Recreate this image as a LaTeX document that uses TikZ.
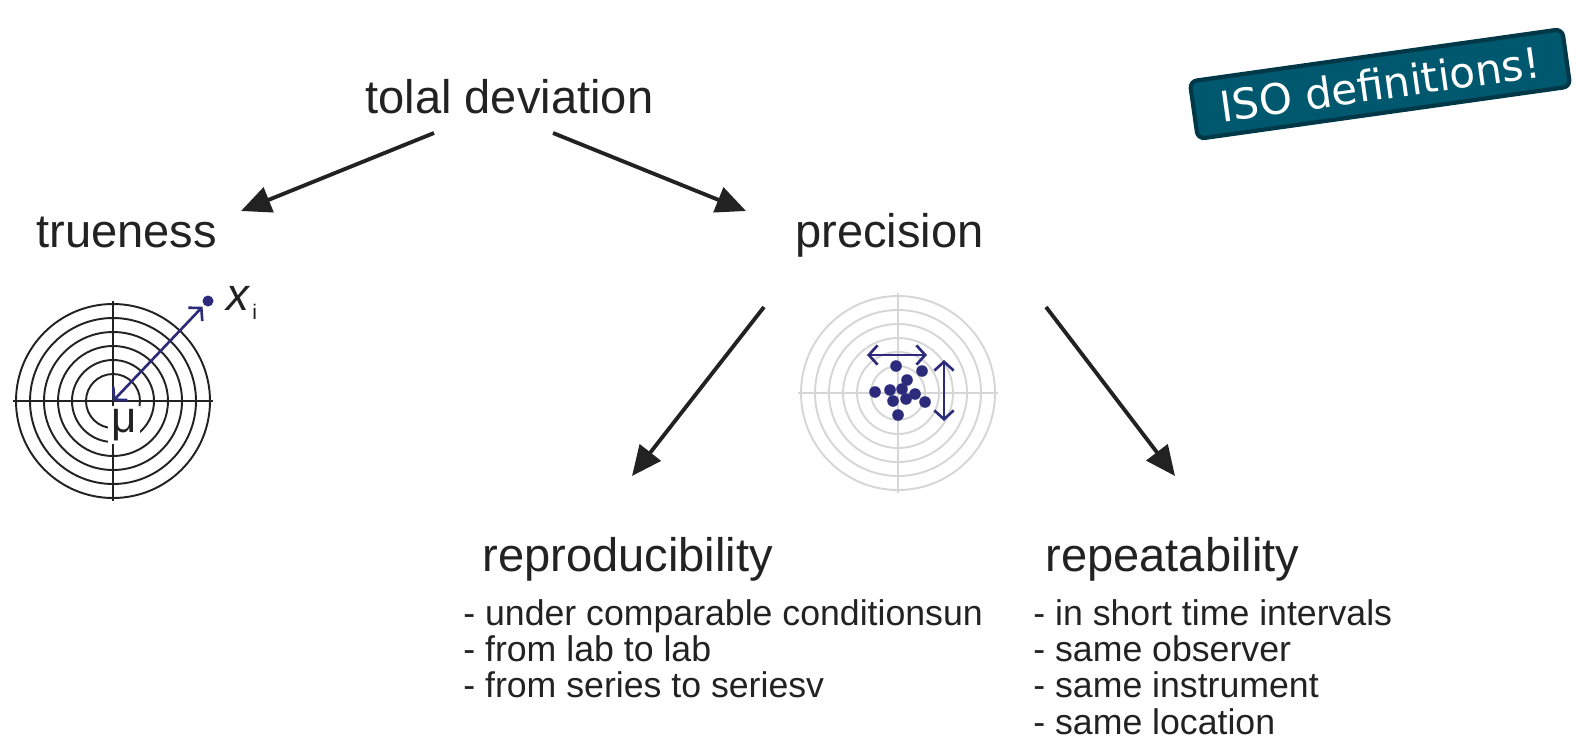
\documentclass[tikz,border=0pt]{standalone}
\usepackage{fontspec}
\setmainfont{Liberation Sans}
\newfontfamily\badgefont{DejaVu Sans}
\usetikzlibrary{arrows.meta}

\definecolor{inkgray}{RGB}{34,34,34}
\definecolor{dotblue}{RGB}{44,42,122}
\definecolor{ringgray}{RGB}{214,214,214}
\definecolor{badgefill}{RGB}{0,88,110}
\definecolor{badgeline}{RGB}{0,56,72}

\tikzset{
  heading/.style={font=\fontsize{26.8}{30}\selectfont, text=inkgray, inner sep=0pt, anchor=base west},
  item/.style={font=\fontsize{20.3}{24}\selectfont, text=inkgray, inner sep=0pt, anchor=base west},
  bigarrow/.style={draw=inkgray, line width=2.2pt, -{Triangle[length=17pt,width=15pt]}},
  spread/.style={draw=dotblue, line width=1.5pt, {Straight Barb[length=5pt,width=11pt]}-{Straight Barb[length=5pt,width=11pt]}},
  hit/.style={fill=dotblue},
  badge/.style={fill=badgefill, draw=badgeline, line width=2.4pt, rounded corners=4pt,
    text=white, font=\badgefont\fontsize{24}{28}\selectfont,
    minimum width=214pt, minimum height=33pt, inner sep=0pt},
}

\begin{document}
\begin{tikzpicture}[x=0.02cm, y=-0.02cm]
\useasboundingbox (0,0) rectangle (1577,743);

% headings
\node[heading] (dev) at (365,114) {tolal deviation};
\node[heading] (true) at (36,247) {trueness};
\node[heading] (prec) at (795,247) {precision};
\node[heading] (repro) at (482,571) {reproducibility};
\node[heading] (repeat) at (1045,571) {repeatability};

% lists
\foreach \t [count=\k] in {under comparable conditionsun, from lab to lab, from series to seriesv}
    \node[item] (repro-\k) at (463,{589+36.3*\k}) {- \t};

\foreach \t [count=\k] in {in short time intervals, same observer, same instrument, same location}
    \node[item] (repeat-\k) at (1033,{589+36.3*\k}) {- \t};

% arrows
\coordinate (dev-l) at (434,133);
\coordinate (dev-r) at (553,133);
\coordinate (true-in) at (241,211);
\coordinate (prec-in) at (746,211);
\coordinate (prec-l) at (764,307);
\coordinate (prec-r) at (1046,307);
\coordinate (repro-in) at (632,476);
\coordinate (repeat-in) at (1175,476);

\draw[bigarrow] (dev-l) -- (true-in);
\draw[bigarrow] (dev-r) -- (prec-in);
\draw[bigarrow] (prec-l) -- (repro-in);
\draw[bigarrow] (prec-r) -- (repeat-in);

% trueness target
\coordinate (mu) at (113,401);
\foreach \r in {27,41,55,69,83,97}
    \draw[inkgray, line width=1.1pt] (mu) circle (\r);
\draw[inkgray, line width=1.1pt] (mu) ++(-100,0) -- ++(200,0);
\draw[inkgray, line width=1.1pt] (mu) ++(0,-100) -- ++(0,200);
\node[fill=white, inner sep=2pt, font=\fontsize{25}{28}\selectfont, text=inkgray] (mu-label) at (124,425) {μ};

\coordinate (xpt) at (208,301);
\draw[spread, shorten <=4.5pt] (xpt) -- (mu);
\fill[hit] (xpt) circle (5.5);
\node[inner sep=0pt, anchor=base west, font=\fontsize{26}{30}\selectfont\itshape, text=inkgray] (xi) at (226,310) {x};
\node[inner sep=0pt, anchor=base west, font=\fontsize{12}{14}\selectfont, text=inkgray] (xi-sub) at (252,319) {i};

% precision target
\coordinate (hub) at (898,393);
\foreach \r in {27,41,55,69,83,97}
    \draw[ringgray, line width=1.1pt] (hub) circle (\r);
\draw[ringgray, line width=1.1pt] (hub) ++(-100,0) -- ++(200,0);
\draw[ringgray, line width=1.1pt] (hub) ++(0,-100) -- ++(0,200);

\foreach \x/\y in {-2/-27, 24/-22, 9/-13, -23/-1, -8/-3, 4/-4, 17/1, -5/8, 8/6, 27/9, 0/22}
    \fill[hit] (hub) ++(\x,\y) circle (5.8);

\draw[spread] (hub) ++(-31,-38) -- ++(60,0);
\draw[spread] (hub) ++(46,-33) -- ++(0,61);

% badge
\node[badge, rotate=8] (iso) at (1380,84) {ISO definitions!};

\end{tikzpicture}
\end{document}
